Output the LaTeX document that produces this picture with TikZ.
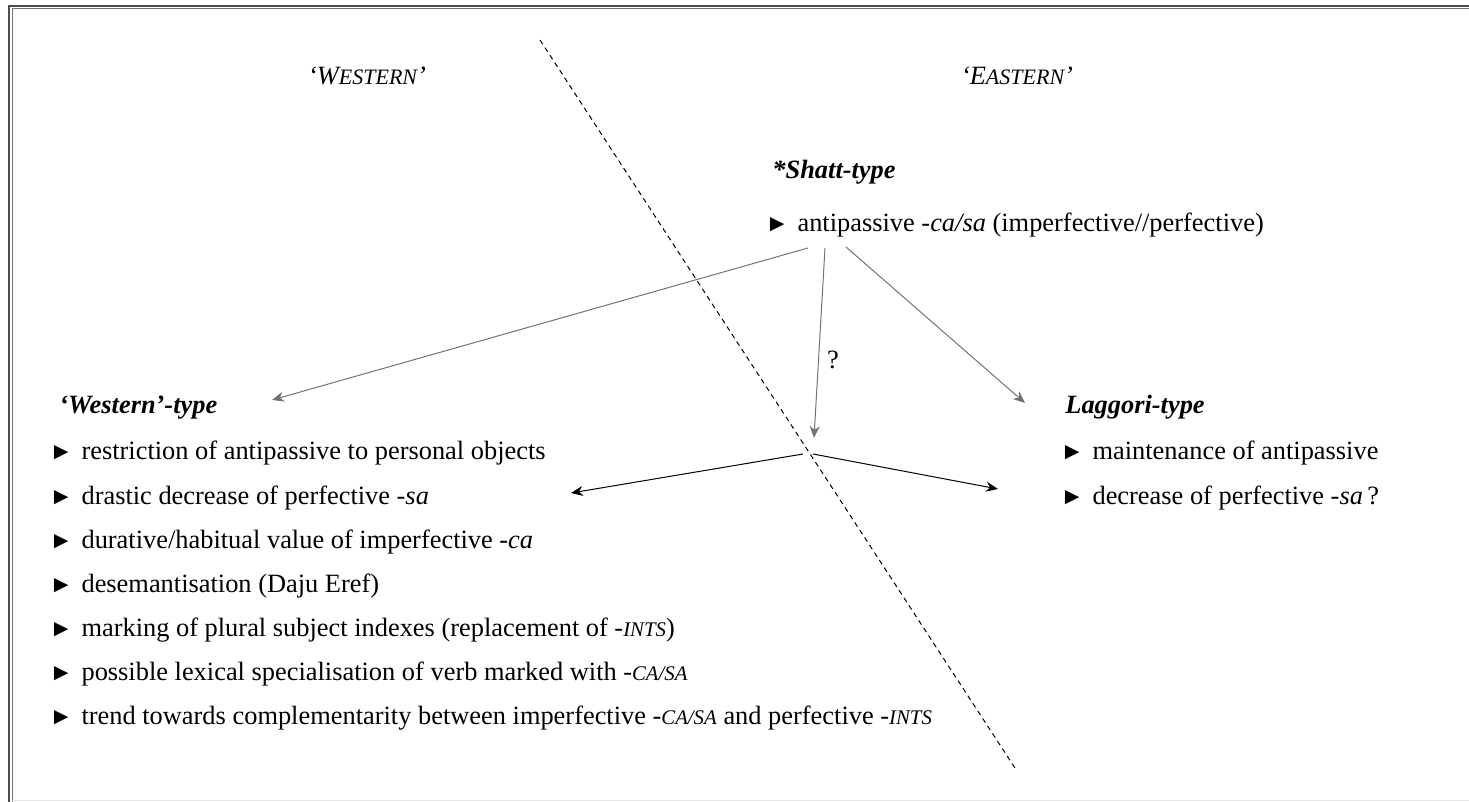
\documentclass[tikz,border=0pt]{standalone}
\usepackage{fontspec}
\setmainfont{Liberation Serif}
\usetikzlibrary{arrows.meta}
\newcommand{\smcap}[1]{{\fontsize{10.4}{11}\selectfont #1}}
\newcommand{\bigsmcap}[1]{{\fontsize{11}{12}\selectfont #1}}
\newcommand{\bul}{{\fontsize{12}{12}\selectfont\symbol{"25BA}}\hspace{4.2pt}}

\begin{document}
\begin{tikzpicture}[x=0.5pt,y=-0.5pt,
    txt/.style={font=\fontsize{13.2}{15}\selectfont, inner sep=0pt, anchor=base west},
    head/.style={txt, font=\fontsize{13.2}{15}\selectfont\bfseries\itshape},
    grayarrow/.style={draw=black!55, line width=0.5pt, -{Stealth[length=6pt,width=5pt]}},
    blackarrow/.style={draw=black, line width=0.5pt, -{Stealth[length=6pt,width=5pt]}},
    divide/.style={dash pattern=on 2.5pt off 2pt, line width=0.5pt}]
    %%%%% START %%%%%
    \useasboundingbox (0,0) rectangle (1469,802);

    % frame
    \draw[line width=0.8pt, black!70] (9,802) -- (9,6) -- (1469,6);
    \draw[line width=0.5pt, black!55] (12,802) -- (12,9) -- (1469,9);
    \draw[line width=0.5pt, black!10] (12,800) -- (1469,800);

    % dividing line
    \coordinate (divTop) at (540,40);
    \coordinate (divBot) at (1015,768);
    \draw[divide] (divTop) -- (divBot);

    \node[txt, anchor=base] (west) at (367,85) {\itshape `W\bigsmcap{ESTERN}'};
    \node[txt, anchor=base] (east) at (1017,85) {\itshape `E\bigsmcap{ASTERN}'};

    % Shatt
    \node[head] (shatt) at (772,179) {*Shatt-type};
    \node[txt] (shatt1) at (765,232) {\bul antipassive \textit{-ca/sa} (imperfective//perfective)};

    % Western
    \node[head] (western) at (59,414) {`Western'-type};
    \node[txt] (western1) at (49,460) {\bul restriction of antipassive to personal objects};
    \node[txt] (western2) at (49,504) {\bul drastic decrease of perfective \textit{-sa}};
    \node[txt] (western3) at (49,548) {\bul durative/habitual value of imperfective \textit{-ca}};
    \node[txt] (western4) at (49,592) {\bul desemantisation (Daju Eref)};
    \node[txt] (western5) at (49,636) {\bul marking of plural subject indexes (replacement of \textit{-\smcap{INTS}})};
    \node[txt] (western6) at (49,680) {\bul possible lexical specialisation of verb marked with \textit{-\smcap{CA/SA}}};
    \node[txt] (western7) at (49,724) {\bul trend towards complementarity between imperfective \textit{-\smcap{CA/SA}} and perfective \textit{-\smcap{INTS}}};

    % Laggori
    \node[head] (laggori) at (1065,414) {Laggori-type};
    \node[txt] (laggori1) at (1060,460) {\bul maintenance of antipassive};
    \node[txt] (laggori2) at (1060,504) {\bul decrease of perfective \textit{-sa}\,?};

    % arrows
    \coordinate (shattL) at (808,248);
    \coordinate (shattM) at (825,248);
    \coordinate (shattR) at (846,247);
    \coordinate (westTip) at (272,400);
    \coordinate (splitTip) at (814,438);
    \coordinate (laggTip) at (1025,403);
    \coordinate (splitL) at (803,454);
    \coordinate (splitR) at (813,454);
    \coordinate (drasticTip) at (571,493);
    \coordinate (decreaseTip) at (998,489);

    \draw[grayarrow] (shattL) -- (westTip);
    \draw[grayarrow] (shattM) -- (splitTip);
    \draw[grayarrow] (shattR) -- (laggTip);
    \node[txt, anchor=center] (query) at (833,360) {?};
    \draw[blackarrow] (splitL) -- (drasticTip);
    \draw[blackarrow] (splitR) -- (decreaseTip);
    %%%%% END %%%%%
\end{tikzpicture}
\end{document}
